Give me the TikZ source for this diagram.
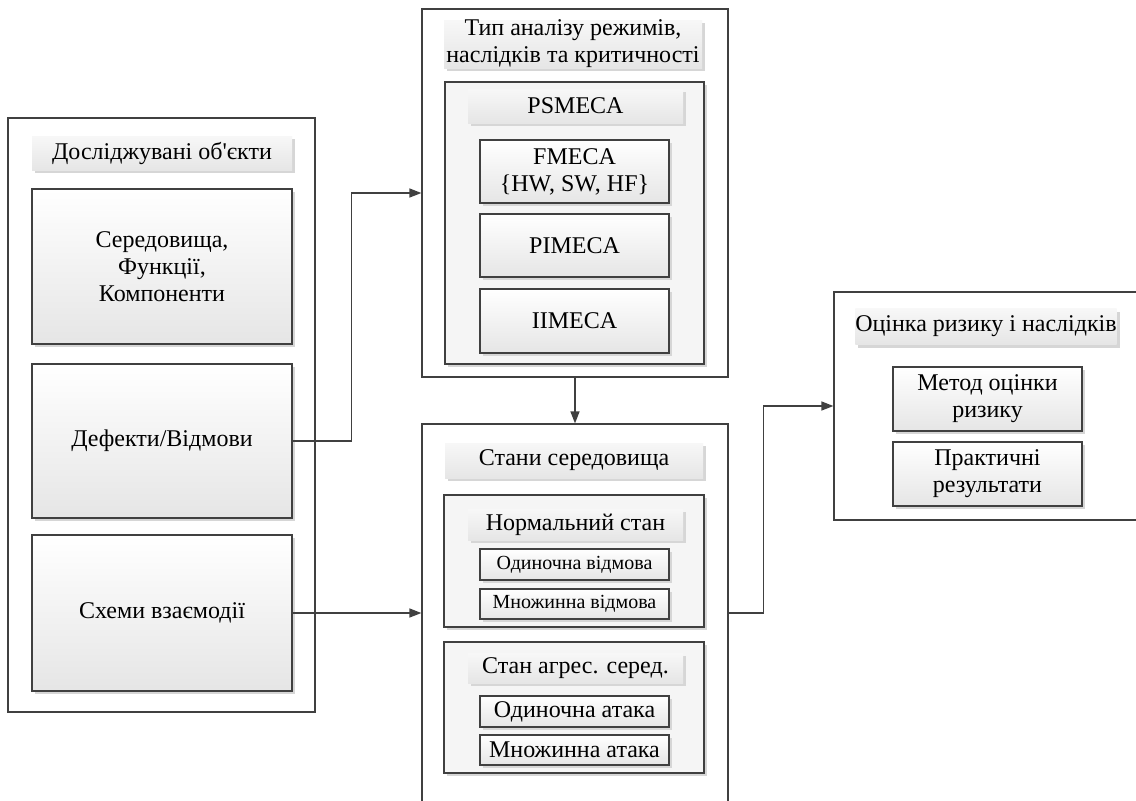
\documentclass[tikz,border=0pt]{standalone}
\usepackage{fontspec}
\setmainfont{Liberation Serif}
\usepackage{xcolor}
\usetikzlibrary{arrows.meta}
\usetikzlibrary{shadows}
\definecolor{linegray}{rgb}{0.25,0.25,0.25}
\definecolor{groupgray}{rgb}{0.96,0.96,0.96}
\definecolor{itemgray}{rgb}{0.90,0.90,0.90}
\definecolor{shadegray}{rgb}{0.84,0.84,0.84}

\tikzset{
    softshadow/.style={drop shadow={shadow xshift=1.6pt, shadow yshift=-1.6pt, fill=shadegray, opacity=1}},
    frame/.style={draw=linegray, fill=white, line width=0.6pt, inner sep=0pt},
    group/.style={draw=linegray, fill=groupgray, line width=0.6pt, inner sep=0pt, softshadow},
    item/.style={draw=linegray, top color=white, bottom color=itemgray, line width=0.6pt, inner sep=0pt, align=center, softshadow},
    caption/.style={top color=white!97!black, bottom color=itemgray, inner sep=0pt, align=center, softshadow},
    link/.style={draw=linegray, line width=0.7pt, -{Triangle[length=6pt,width=4.5pt]}},
}

\begin{document}
\begin{tikzpicture}[x=0.5pt, y=-0.5pt, font=\fontsize{12}{13.5}\selectfont]
    \useasboundingbox (0,0) rectangle (1136,800);

    % draw outer frames
    \node[frame, minimum width=153.5pt, minimum height=297pt] (obj) at (161.5,415) {};
    \node[frame, minimum width=153pt, minimum height=184pt] (tma) at (575,193) {};
    \node[frame, minimum width=153pt, minimum height=189pt] (st) at (575,613) {};
    \node[frame, minimum width=153pt, minimum height=114pt] (ri) at (987,406) {};

    % investigated objects
    \node[caption, minimum width=130pt, minimum height=17pt] (objcap) at (162,153) {Досліджувані об\textquotesingle єкти};
    \node[item, minimum width=130pt, minimum height=77.5pt] (env) at (162,266.5) {Середовища,\\Функції,\\Компоненти};
    \node[item, minimum width=130pt, minimum height=77pt] (def) at (162,441) {Дефекти/Відмови};
    \node[item, minimum width=130pt, minimum height=78pt] (sch) at (162,613) {Схеми взаємодії};

    % type of analysis
    \node[caption, minimum width=129pt, minimum height=21pt] (tmacap) at (573,44) {Тип аналізу режимів,\\наслідків та критичності};
    \node[group, minimum width=129.5pt, minimum height=141pt] (ps) at (574.5,223) {};
    \node[caption, minimum width=107.5pt, minimum height=17pt] (pscap) at (575.5,106) {PSMECA};
    \node[item, minimum width=94.5pt, minimum height=31.5pt] (fm) at (574.5,171.5) {FMECA\\\{HW, SW, HF\}};
    \node[item, minimum width=94.5pt, minimum height=31.5pt] (pi) at (574.5,245.5) {PIMECA};
    \node[item, minimum width=94.5pt, minimum height=32pt] (ii) at (574.5,321) {IIMECA};

    % environment states
    \node[caption, minimum width=129pt, minimum height=17.5pt] (stcap) at (574,460.5) {Стани середовища};
    \node[group, minimum width=130pt, minimum height=66pt] (nrm) at (574,561) {};
    \node[caption, minimum width=107.5pt, minimum height=15.5pt] (nrmcap) at (575.5,524.5) {Нормальний стан};
    \node[item, minimum width=94.5pt, minimum height=15.5pt, font=\fontsize{10}{12}\selectfont] (sf) at (574.5,564.5) {Одиночна відмова};
    \node[item, minimum width=94.5pt, minimum height=15pt, font=\fontsize{10}{12}\selectfont] (mf) at (574.5,604) {Множинна відмова};
    \node[group, minimum width=130pt, minimum height=65.5pt] (agr) at (574,707.5) {};
    \node[caption, minimum width=107.5pt, minimum height=15pt] (agrcap) at (575.5,668) {Стан агрес. серед.};
    \node[item, minimum width=94.5pt, minimum height=15.5pt] (sa) at (574.5,711.5) {Одиночна атака};
    \node[item, minimum width=94.5pt, minimum height=15pt] (ma) at (574.5,750) {Множинна атака};

    % risk assessment
    \node[caption, minimum width=129pt, minimum height=18pt] (ricap) at (986,326.5) {Оцінка ризику і наслідків};
    \node[item, minimum width=94.5pt, minimum height=32pt] (rm) at (987.5,399) {Метод оцінки\\ризику};
    \node[item, minimum width=94.5pt, minimum height=32pt] (pr) at (987.5,474) {Практичні\\результати};

    % draw connectors
    \draw[link] (def.east) -- ++(59,0) |- (tma.west);
    \draw[link] (sch.east) -- (st.west);
    \draw[link] (tma.south) -- (st.north);
    \draw[link] (st.east) -- ++(35,0) |- (ri.west);
\end{tikzpicture}
\end{document}
